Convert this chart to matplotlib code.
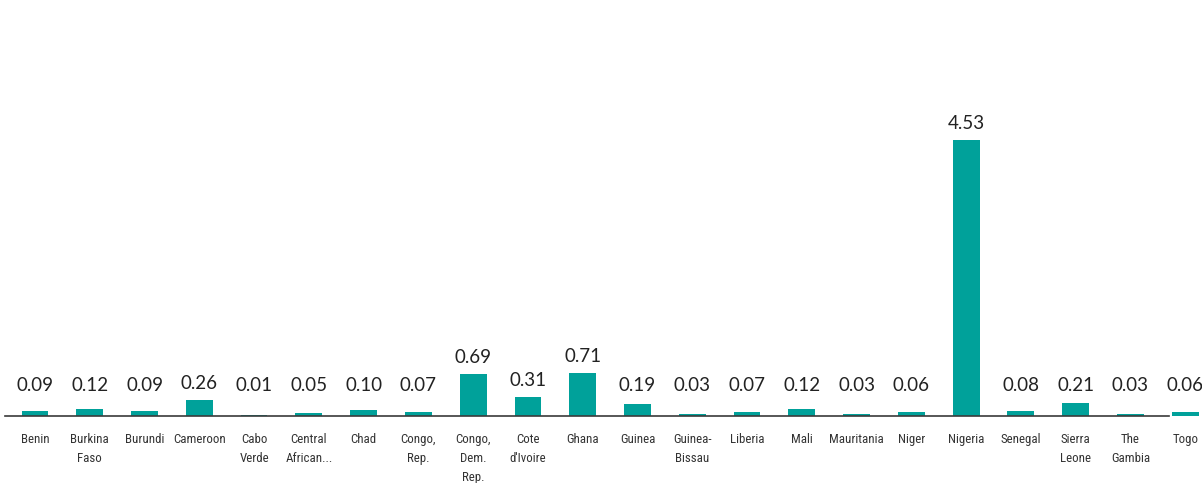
import matplotlib.pyplot as plt
from matplotlib import font_manager

countries = ['Benin', 'Burkina\nFaso', 'Burundi', 'Cameroon', 'Cabo\nVerde', 'Central\nAfrican...',
             'Chad', 'Congo,\nRep.', 'Congo,\nDem.\nRep.', 'Cote\nd\'Ivoire', 'Ghana', 'Guinea',
             'Guinea-\nBissau', 'Liberia', 'Mali', 'Mauritania', 'Niger', 'Nigeria', 'Senegal',
             'Sierra\nLeone', 'The\nGambia', 'Togo']
values = [0.09, 0.12, 0.09, 0.26, 0.01, 0.05, 0.10, 0.07, 0.69, 0.31, 0.71, 0.19,
          0.03, 0.07, 0.12, 0.03, 0.06, 4.53, 0.08, 0.21, 0.03, 0.06]

# look for a narrow face for the tick labels
names = {f.name for f in font_manager.fontManager.ttflist}
tick_font, tick_size = 'Lato', 8.6
for cand in ['Liberation Sans Narrow', 'Roboto Condensed', 'Open Sans Condensed', 'DejaVu Sans Condensed']:
    if cand in names:
        tick_font, tick_size = cand, 9.3
        break

fig = plt.figure(figsize=(12.02, 4.83), dpi=100)
# axes run a bit past the right edge so Togo is clipped like the original
ax = fig.add_axes([7.6 / 1202, (483 - 416) / 483, 1205 / 1202, 276 / 483 / 4.53 * 5.2])
x = list(range(len(values)))
ax.bar(x, values, width=0.49, color='#00A19A', zorder=2)
ax.set_xlim(-0.5, len(values) - 0.5)
ax.set_ylim(0, 5.2)

for s in ['top', 'right', 'left']:
    ax.spines[s].set_visible(False)
ax.spines['bottom'].set_color('#3a3a3a')
ax.spines['bottom'].set_linewidth(1.2)
ax.spines['bottom'].set_bounds(-0.55, 20.7)
ax.set_yticks([])
ax.set_xticks(x)
ax.set_xticklabels(countries, family=tick_font, fontsize=tick_size, color='#333333', linespacing=1.6)
ax.tick_params(axis='x', length=0, pad=12)

px = 5.2 / (276 / 4.53 * 5.2)  # data units per pixel
for xi, v in zip(x, values):
    y = max(v + 8 * px, 22 * px)
    ax.text(xi, y, f'{v:.2f}', ha='center', va='bottom', family='Lato',
            fontsize=13.5, color='#222222')

fig.savefig('out.png', dpi=100)
